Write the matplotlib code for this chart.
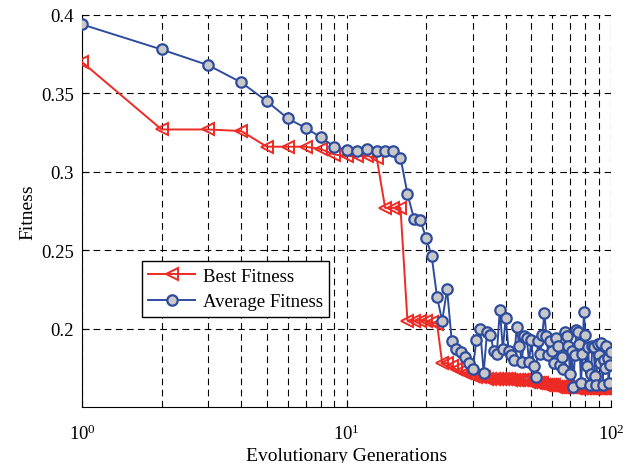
import numpy as np
import matplotlib
matplotlib.use("Agg")
import matplotlib.pyplot as plt
from matplotlib.ticker import LogLocator, NullFormatter

# generations 1..100
generations = np.arange(1, 101)

best_fitness = [
    0.370, 0.327, 0.327, 0.326, 0.316, 0.316, 0.316, 0.3145, 0.311, 0.310,
    0.310, 0.310, 0.309, 0.277, 0.277, 0.277, 0.205, 0.205, 0.205, 0.205,
    0.204, 0.203, 0.178, 0.178, 0.176, 0.174, 0.173, 0.172, 0.171, 0.170,
    0.169, 0.169, 0.169, 0.168, 0.168, 0.168, 0.168, 0.168, 0.168, 0.168,
    0.168, 0.167, 0.167, 0.167, 0.167, 0.167, 0.167, 0.167, 0.166, 0.166,
    0.166, 0.165, 0.165, 0.165, 0.165, 0.164, 0.164, 0.164, 0.164, 0.164,
    0.164, 0.163, 0.163, 0.163, 0.163, 0.163, 0.163, 0.163, 0.163, 0.163,
    0.163, 0.163, 0.162, 0.162, 0.162, 0.162, 0.162, 0.162, 0.162, 0.162,
    0.162, 0.162, 0.162, 0.162, 0.162, 0.162, 0.162, 0.162, 0.162, 0.162,
    0.162, 0.162, 0.162, 0.162, 0.162, 0.162, 0.162, 0.162, 0.162, 0.162,
]

average_fitness = [
    0.394, 0.378, 0.368, 0.357, 0.345, 0.334, 0.328, 0.322, 0.316, 0.314,
    0.313, 0.3145, 0.313, 0.313, 0.313, 0.309, 0.286, 0.270, 0.269, 0.258,
    0.246, 0.220, 0.205, 0.225, 0.192, 0.187, 0.185, 0.182, 0.178, 0.174,
    0.193, 0.1995, 0.172, 0.198, 0.196, 0.186, 0.184, 0.212, 0.187, 0.207,
    0.186, 0.183, 0.180, 0.201, 0.189, 0.179, 0.195, 0.194, 0.179, 0.193,
    0.176, 0.169, 0.192, 0.184, 0.196, 0.210, 0.195, 0.183, 0.192, 0.186,
    0.178, 0.194, 0.189, 0.177, 0.182, 0.174, 0.198, 0.195, 0.189, 0.171,
    0.186, 0.163, 0.183, 0.199, 0.198, 0.190, 0.165, 0.184, 0.2105, 0.196,
    0.176, 0.188, 0.164, 0.171, 0.189, 0.188, 0.170, 0.164, 0.190, 0.183,
    0.178, 0.191, 0.164, 0.180, 0.175, 0.189, 0.181, 0.165, 0.177, 0.185,
]

RED = "#ee2a24"
BLUE = "#2e4c9e"
GRAY = "#c8c8c8"

plt.rcParams["font.family"] = ["Liberation Serif", "DejaVu Serif"]
plt.rcParams["mathtext.fontset"] = "stix"

fig = plt.figure(figsize=(6.24, 4.64), dpi=100)
ax = fig.add_axes([82/624, 1 - 408/464, 529/624, 392/464])

ax.plot(generations, best_fitness, color=RED, lw=1.4, marker="<",
        ms=8, mfc="none", mec=RED, mew=1.4, label="Best Fitness", zorder=3)
ax.plot(generations, average_fitness, color=BLUE, lw=1.4, marker="o",
        ms=7.5, mfc=GRAY, mec=BLUE, mew=1.6, label="Average Fitness", zorder=4)

ax.set_xscale("log")
ax.set_xlim(1, 100)
ax.set_ylim(0.15, 0.4)
ax.set_yticks([0.2, 0.25, 0.3, 0.35, 0.4])
ax.set_yticklabels(["0.2", "0.25", "0.3", "0.35", "0.4"])
ax.xaxis.set_minor_locator(LogLocator(base=10, subs=np.arange(2, 10)))
ax.xaxis.set_minor_formatter(NullFormatter())

dash = (0, (6, 4))
ax.grid(True, which="major", axis="both", color="black", lw=0.8, linestyle=dash)
ax.grid(True, which="minor", axis="x", color="black", lw=0.8, linestyle=dash)
ax.set_axisbelow(True)

ax.tick_params(which="both", direction="in", top=False, right=False,
               labelsize=13.5)
ax.tick_params(which="major", length=5)
ax.tick_params(which="minor", length=3)
ax.tick_params(axis="y", pad=6)
ax.tick_params(axis="x", pad=12)
for s in ["top", "right"]:
    ax.spines[s].set_visible(False)

ax.set_xlabel("Evolutionary Generations", fontsize=14, labelpad=3)
ax.set_ylabel("Fitness", fontsize=14, labelpad=3)

leg = ax.legend(loc="upper left", bbox_to_anchor=(0.113, 0.372), fontsize=13.5,
                fancybox=False, framealpha=1, edgecolor="black",
                handlelength=2.5, borderpad=0.35, labelspacing=0.45,
                handletextpad=0.4, borderaxespad=0)
leg.get_frame().set_linewidth(1.0)

fig.savefig("out.png", dpi=100)
